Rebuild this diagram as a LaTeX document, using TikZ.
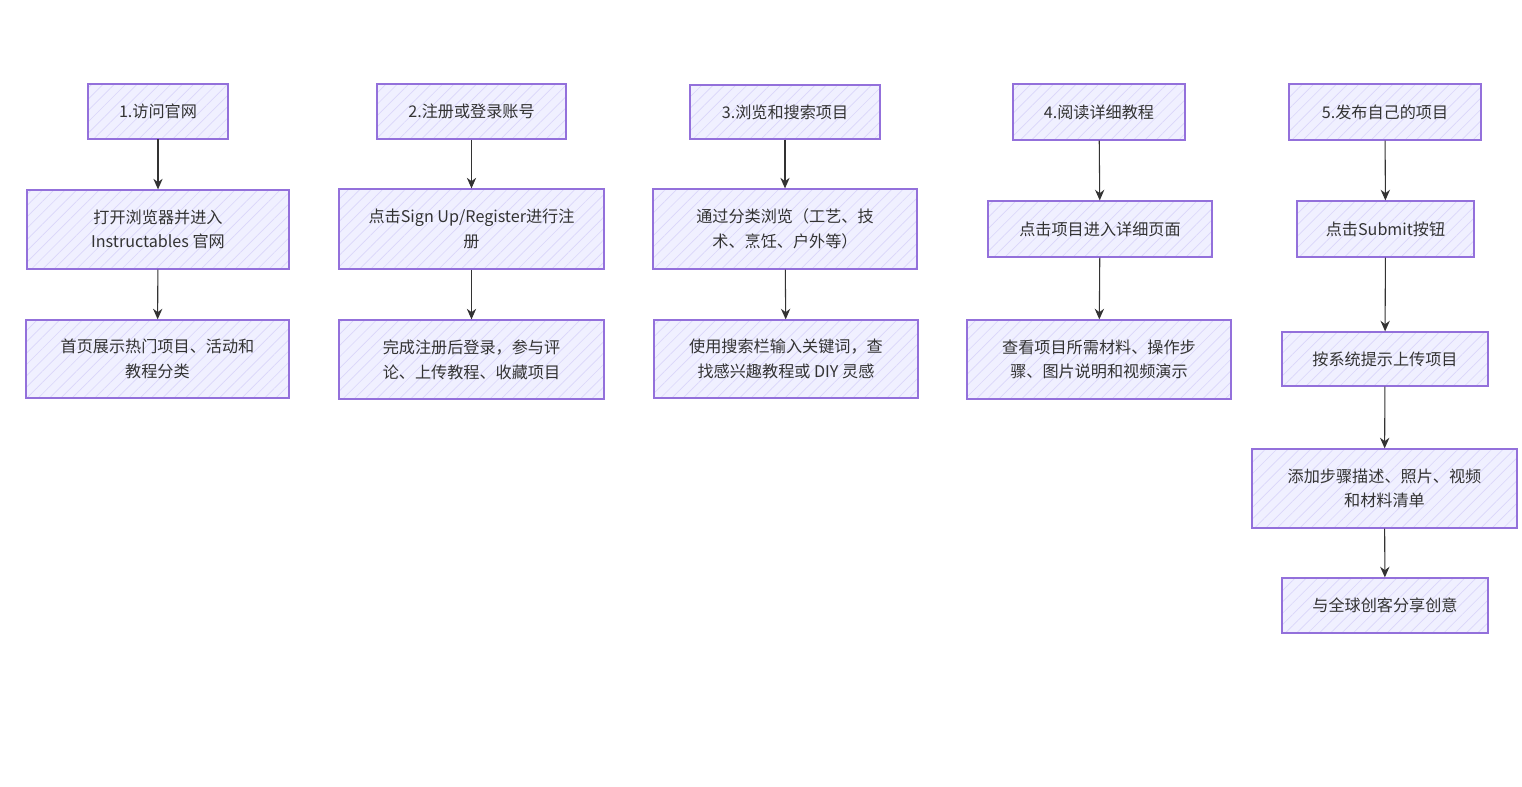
\documentclass[tikz,border=0pt]{standalone}
\usepackage{fontspec}
\setmainfont{Noto Sans CJK SC}
\usetikzlibrary{arrows.meta,patterns.meta}
\definecolor{boxfill}{RGB}{240,240,255}
\definecolor{hatch}{RGB}{218,214,250}
\definecolor{boxline}{RGB}{147,112,219}
\definecolor{txt}{RGB}{51,51,51}
\definecolor{arr}{RGB}{51,51,51}
\tikzset{
  stepbox/.style={draw=boxline,line width=0.9pt,text=txt,align=center,
    font=\fontsize{12.1pt}{18.5pt}\selectfont,inner sep=0pt,
    preaction={fill=boxfill},
    pattern={Lines[angle=45,distance=6pt,line width=0.5pt]},pattern color=hatch},
  flow/.style={draw=arr,line width=0.8pt,-{Stealth[length=8pt,width=7pt]}}
}
\newcommand{\bx}[6]{% name, x1,y1,x2,y2,text
  \node[stepbox,minimum width={(#4-#2)*0.75pt},minimum height={(#5-#3)*0.75pt}]
   (#1) at ({(#2+#4)/2},{(#3+#5)/2}) {#6};}
\begin{document}
\begin{tikzpicture}[x=0.75pt,y=-0.75pt]
\useasboundingbox (0,0) rectangle (1522,787);
% column 1
\bx{a1}{88}{84}{228}{139}{1.访问官网}
\bx{a2}{27}{190}{289}{269}{打开浏览器并进入\\Instructables 官网}
\bx{a3}{26}{320}{289}{398}{首页展示热门项目、活动和\\教程分类}
% column 2
\bx{b1}{377}{84}{566}{139}{2.注册或登录账号}
\bx{b2}{339}{189}{604}{269}{点击Sign Up/Register进行注\\册}
\bx{b3}{339}{320}{604}{399}{完成注册后登录，参与评\\论、上传教程、收藏项目}
% column 3
\bx{c1}{690}{85}{880}{139}{3.浏览和搜索项目}
\bx{c2}{653}{189}{917}{269}{通过分类浏览（工艺、技\\术、烹饪、户外等）}
\bx{c3}{654}{320}{918}{398}{使用搜索栏输入关键词，查\\找感兴趣教程或 DIY 灵感}
% column 4
\bx{d1}{1013}{84}{1185}{140}{4.阅读详细教程}
\bx{d2}{988}{201}{1212}{257}{点击项目进入详细页面}
\bx{d3}{967}{320}{1231}{399}{查看项目所需材料、操作步\\骤、图片说明和视频演示}
% column 5
\bx{e1}{1289}{84}{1481}{140}{5.发布自己的项目}
\bx{e2}{1297}{201}{1474}{257}{点击Submit按钮}
\bx{e3}{1282}{332}{1488}{386}{按系统提示上传项目}
\bx{e4}{1252}{449}{1517}{528}{添加步骤描述、照片、视频\\和材料清单}
\bx{e5}{1282}{578}{1488}{633}{与全球创客分享创意}
% connectors
\draw[flow] (a1) -- (a2);
\draw[flow] (a2) -- (a3);
\draw[flow] (b1) -- (b2);
\draw[flow] (b2) -- (b3);
\draw[flow] (c1) -- (c2);
\draw[flow] (c2) -- (c3);
\draw[flow] (d1) -- (d2);
\draw[flow] (d2) -- (d3);
\draw[flow] (e1) -- (e2);
\draw[flow] (e2) -- (e3);
\draw[flow] (e3) -- (e4);
\draw[flow] (e4) -- (e5);
\end{tikzpicture}
\end{document}
